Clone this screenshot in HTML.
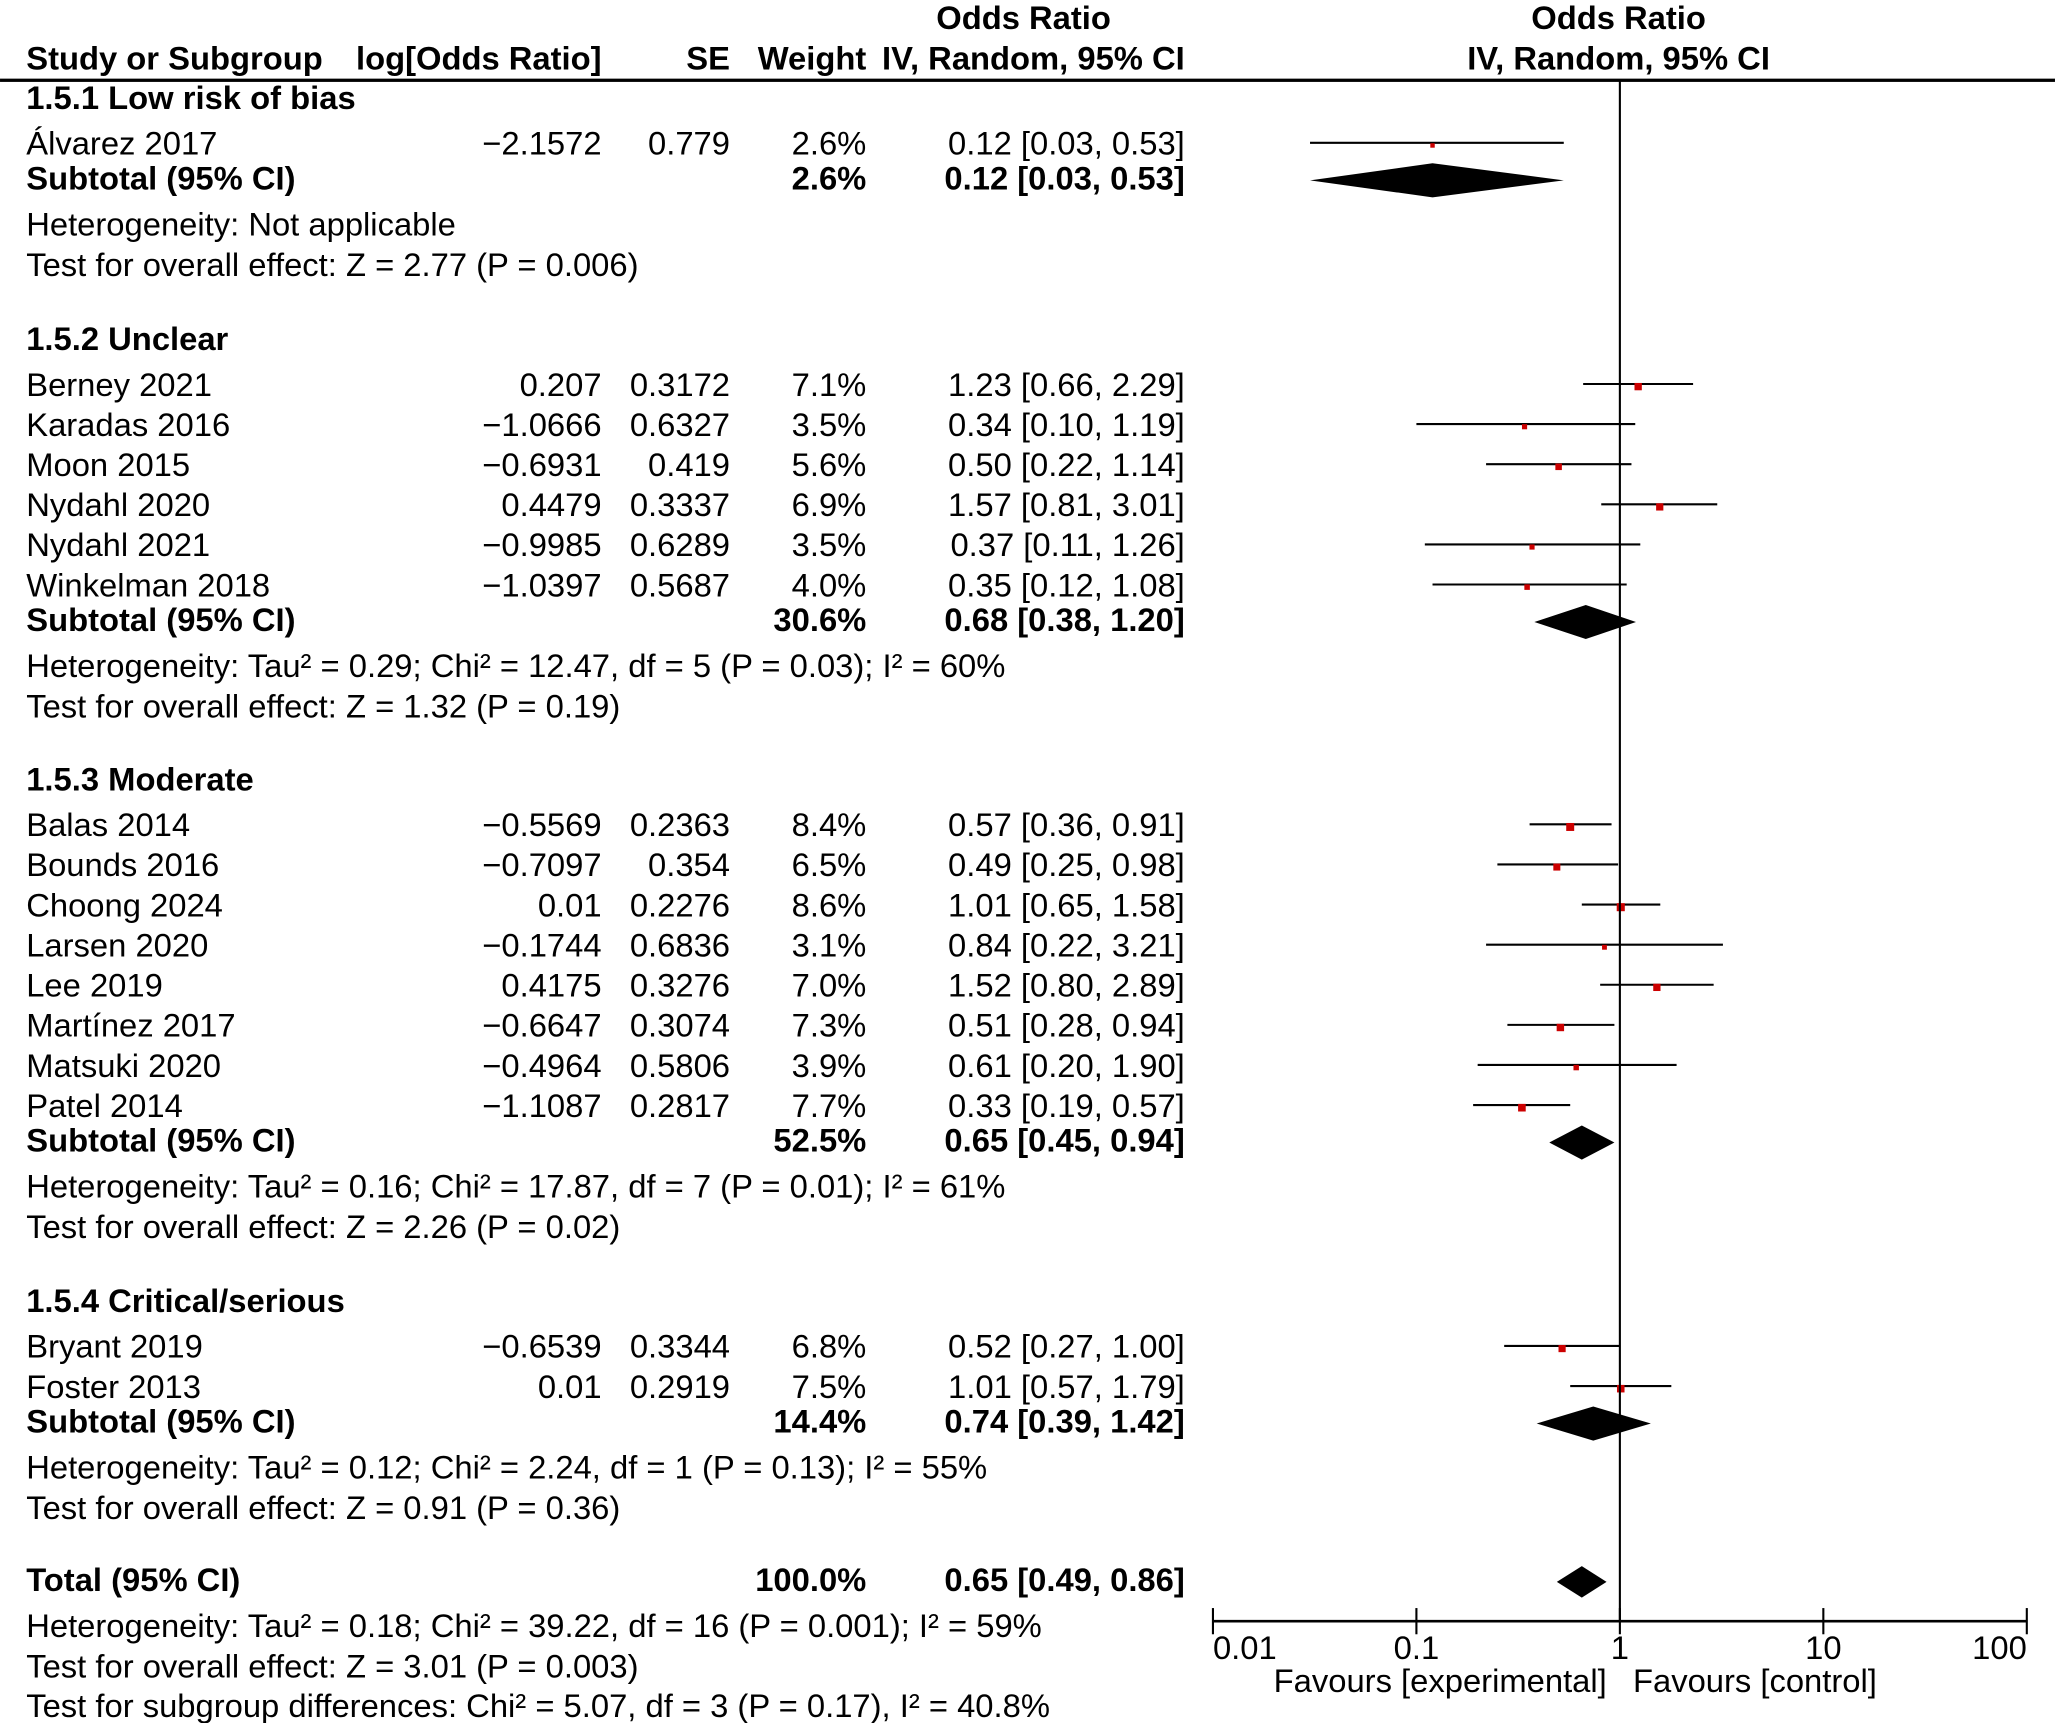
<!DOCTYPE html>
<html><head><meta charset="utf-8"><style>
html,body{margin:0;padding:0;background:#fff;}
svg{display:block;}
text{font-family:"Liberation Sans",sans-serif;font-size:25px;fill:#000;}
.b{font-weight:bold;}
</style></head><body>
<svg id="chart" width="2055" height="1723" viewBox="0 0 1568 1314.7" xmlns="http://www.w3.org/2000/svg">
<g id="hdr">
<text x="781" y="22" text-anchor="middle" class="b">Odds Ratio</text>
<text x="20" y="53" class="b">Study or Subgroup</text>
<text x="459" y="53" text-anchor="end" class="b">log[Odds Ratio]</text>
<text x="557" y="53" text-anchor="end" class="b">SE</text>
<text x="661" y="53" text-anchor="end" class="b">Weight</text>
<text x="904" y="53" text-anchor="end" class="b">IV, Random, 95% CI</text>
<text x="1235" y="22" text-anchor="middle" class="b">Odds Ratio</text>
<text x="1235" y="53" text-anchor="middle" class="b">IV, Random, 95% CI</text>
<rect x="0" y="60" width="1568" height="2.5" fill="#000"></rect>
</g>
<g id="rows"></g>
<g id="plot"></g>
</svg>
<script>
// ---- data ----
const studyNames = ["Álvarez 2017","Berney 2021","Karadas 2016","Moon 2015","Nydahl 2020","Nydahl 2021","Winkelman 2018","Balas 2014","Bounds 2016","Choong 2024","Larsen 2020","Lee 2019","Martínez 2017","Matsuki 2020","Patel 2014","Bryant 2019","Foster 2013"];
const studyGroup = [0,1,1,1,1,1,1,2,2,2,2,2,2,2,2,3,3];
const logOR = [-2.1572,0.207,-1.0666,-0.6931,0.4479,-0.9985,-1.0397,-0.5569,-0.7097,0.01,-0.1744,0.4175,-0.6647,-0.4964,-1.1087,-0.6539,0.01];
const seVals = [0.779,0.3172,0.6327,0.419,0.3337,0.6289,0.5687,0.2363,0.354,0.2276,0.6836,0.3276,0.3074,0.5806,0.2817,0.3344,0.2919];
const weights = [2.6,7.1,3.5,5.6,6.9,3.5,4.0,8.4,6.5,8.6,3.1,7.0,7.3,3.9,7.7,6.8,7.5];
const orVals = [0.12,1.23,0.34,0.50,1.57,0.37,0.35,0.57,0.49,1.01,0.84,1.52,0.51,0.61,0.33,0.52,1.01];
const ciLow = [0.03,0.66,0.10,0.22,0.81,0.11,0.12,0.36,0.25,0.65,0.22,0.80,0.28,0.20,0.19,0.27,0.57];
const ciHigh = [0.53,2.29,1.19,1.14,3.01,1.26,1.08,0.91,0.98,1.58,3.21,2.89,0.94,1.90,0.57,1.00,1.79];
const groupTitles = ["1.5.1 Low risk of bias","1.5.2 Unclear","1.5.3 Moderate","1.5.4 Critical/serious"];
const subWeights = [2.6,30.6,52.5,14.4];
const subOR = [0.12,0.68,0.65,0.74];
const subLow = [0.03,0.38,0.45,0.39];
const subHigh = [0.53,1.20,0.94,1.42];
const groupHet = ["Heterogeneity: Not applicable","Heterogeneity: Tau² = 0.29; Chi² = 12.47, df = 5 (P = 0.03); I² = 60%","Heterogeneity: Tau² = 0.16; Chi² = 17.87, df = 7 (P = 0.01); I² = 61%","Heterogeneity: Tau² = 0.12; Chi² = 2.24, df = 1 (P = 0.13); I² = 55%"];
const groupTest = ["Test for overall effect: Z = 2.77 (P = 0.006)","Test for overall effect: Z = 1.32 (P = 0.19)","Test for overall effect: Z = 2.26 (P = 0.02)","Test for overall effect: Z = 0.91 (P = 0.36)"];
const totalWeight = 100.0;
const totalOR = 0.65, totalLow = 0.49, totalHigh = 0.86;
const totalNotes = ["Heterogeneity: Tau² = 0.18; Chi² = 39.22, df = 16 (P = 0.001); I² = 59%","Test for overall effect: Z = 3.01 (P = 0.003)","Test for subgroup differences: Chi² = 5.07, df = 3 (P = 0.17), I² = 40.8%"];
const tickValues = [0.01,0.1,1,10,100];
const tickLabels = ["0.01","0.1","1","10","100"];

// ---- scales ----
const NS="http://www.w3.org/2000/svg";
const X1=1236, DEC=155.25;
function xs(v){return X1+DEC*Math.log10(v);}
const rowsG=document.getElementById('rows'), plotG=document.getElementById('plot');
function t(g,x,y,s,anchor,bold,name){
  const e=document.createElementNS(NS,'text');
  e.setAttribute('x',x);e.setAttribute('y',y);
  if(anchor)e.setAttribute('text-anchor',anchor);
  if(bold)e.setAttribute('class','b');
  e.textContent=s;
  
  
  g.appendChild(e);return e;
}
function f2(v){return v.toFixed(2);}
function num(v){return String(v).replace('-','\u2212');}
function ci(o,l,h){return f2(o)+" ["+f2(l)+", "+f2(h)+"]";}
function diamond(y,o,l,h,hh,name){
  const p=document.createElementNS(NS,'polygon');
  p.setAttribute('points',`${xs(l)},${y} ${xs(o)},${y-hh} ${xs(h)},${y} ${xs(o)},${y+hh}`);
  p.setAttribute('fill','#000');
  
  
  plotG.appendChild(p);
}

// ---- layout ----
const groupStart=[83,267,603,1001];
const ROW=30.6;
let si=0;
for(let g=0; g<4; g++){
  let y=groupStart[g];
  t(rowsG,20,y,groupTitles[g],null,true,'group-title');
  y+=35;
  while(si<studyNames.length && studyGroup[si]===g){
    t(rowsG,20,y,studyNames[si],null,false,'study-name');
    t(rowsG,459,y,num(logOR[si]),'end',false,'log-or-value');
    t(rowsG,557,y,num(seVals[si]),'end',false,'se-value');
    t(rowsG,661,y,weights[si].toFixed(1)+"%",'end',false,'weight-value');
    t(rowsG,904,y,ci(orVals[si],ciLow[si],ciHigh[si]),'end',false,'ci-value');
    const cy=y-9;
    const ln=document.createElementNS(NS,'line');
    ln.setAttribute('x1',xs(ciLow[si]));ln.setAttribute('x2',xs(ciHigh[si]));
    ln.setAttribute('y1',cy);ln.setAttribute('y2',cy);
    ln.setAttribute('stroke','#000');ln.setAttribute('stroke-width','1.6');
    
    
    plotG.appendChild(ln);
    const s=Math.sqrt(weights[si])*2.1;
    const r=document.createElementNS(NS,'rect');
    r.setAttribute('x',xs(orVals[si])-s/2);r.setAttribute('y',cy+2-s/2);
    r.setAttribute('width',s);r.setAttribute('height',s);r.setAttribute('fill','#cc0000');
    
    
    plotG.appendChild(r);
    si++; y+=ROW;
  }
  y-=4;
  t(rowsG,20,y,"Subtotal (95% CI)",null,true,'subtotal-label');
  t(rowsG,661,y,subWeights[g].toFixed(1)+"%",'end',true,'subtotal-weight');
  t(rowsG,904,y,ci(subOR[g],subLow[g],subHigh[g]),'end',true,'subtotal-ci');
  diamond(y-7,subOR[g],subLow[g],subHigh[g],13,'subtotal-diamond');
  y+=35;
  t(rowsG,20,y,groupHet[g],null,false,'heterogeneity-note');
  y+=31;
  t(rowsG,20,y,groupTest[g],null,false,'overall-effect-note');
}
t(rowsG,20,1214,"Total (95% CI)",null,true,'total-label');
t(rowsG,661,1214,totalWeight.toFixed(1)+"%",'end',true,'total-weight');
t(rowsG,904,1214,ci(totalOR,totalLow,totalHigh),'end',true,'total-ci');
diamond(1207,totalOR,totalLow,totalHigh,12,'total-diamond');
t(rowsG,20,1249,totalNotes[0],null,false,'total-heterogeneity');
t(rowsG,20,1280,totalNotes[1],null,false,'total-overall-effect');
t(rowsG,20,1310,totalNotes[2],null,false,'subgroup-differences');

// ---- axes ----
const AY=1237;
const vl=document.createElementNS(NS,'line');
vl.setAttribute('x1',xs(1));vl.setAttribute('x2',xs(1));vl.setAttribute('y1',61);vl.setAttribute('y2',AY);
vl.setAttribute('stroke','#000');vl.setAttribute('stroke-width','1.6');


plotG.appendChild(vl);
const ax=document.createElementNS(NS,'line');
ax.setAttribute('x1',xs(tickValues[0]));ax.setAttribute('x2',xs(tickValues[tickValues.length-1]));
ax.setAttribute('y1',AY);ax.setAttribute('y2',AY);ax.setAttribute('stroke','#000');ax.setAttribute('stroke-width','2');


plotG.appendChild(ax);
tickValues.forEach((v,i)=>{
  const tk=document.createElementNS(NS,'line');
  tk.setAttribute('x1',xs(v));tk.setAttribute('x2',xs(v));tk.setAttribute('y1',AY-10);tk.setAttribute('y2',AY+10);
  tk.setAttribute('stroke','#000');tk.setAttribute('stroke-width','1.6');
  
  
  plotG.appendChild(tk);
  const anchor=i===0?'start':(i===tickValues.length-1?'end':'middle');
  const dx=i===0?0:(i===tickValues.length-1?0:0);
  t(plotG,xs(v)+dx,1266,tickLabels[i],anchor,false,'x-tick-label');
});
t(plotG,1226,1291,"Favours [experimental]",'end',false,'favours-experimental-label');
t(plotG,1246,1291,"Favours [control]",'start',false,'favours-control-label');
</script>
</body></html>
